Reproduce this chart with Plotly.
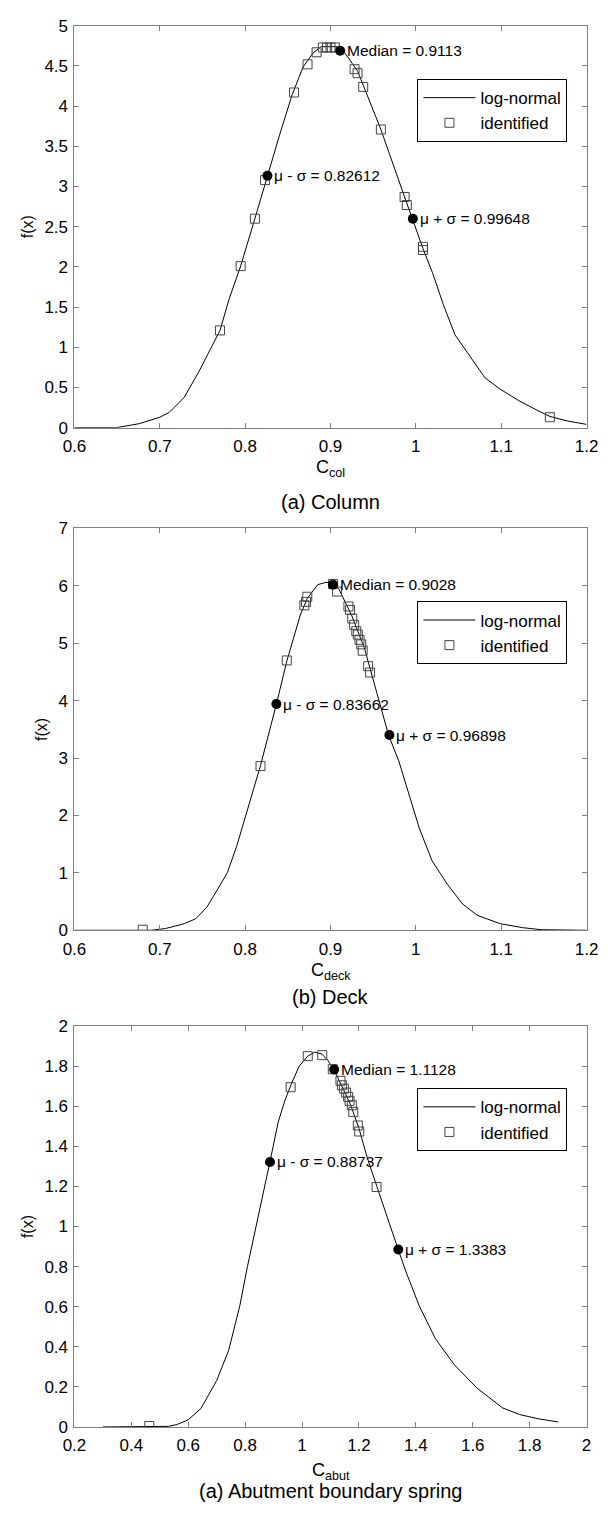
import plotly.graph_objects as go

# ---- Column ----
col_curve_x = [0.600, 0.649, 0.676, 0.700, 0.711, 0.7286, 0.746, 0.7595, 0.7705, 0.7815, 0.7947,
               0.8114, 0.826, 0.840, 0.855, 0.868, 0.8795, 0.889, 0.9077, 0.917, 0.932, 0.943,
               0.959, 0.9868, 0.9956, 1.0017, 1.0083, 1.0194, 1.0326, 1.0458, 1.0678, 1.081,
               1.0987, 1.1207, 1.1427, 1.157, 1.178, 1.200]
col_curve_y = [0.0, 0.0, 0.05, 0.13, 0.19, 0.377, 0.70, 0.99, 1.21, 1.61, 2.01,
               2.60, 3.13, 3.63, 4.14, 4.49, 4.66, 4.74, 4.74, 4.66, 4.43, 4.14,
               3.71, 2.87, 2.60, 2.43, 2.23, 1.93, 1.52, 1.156, 0.83, 0.62,
               0.48, 0.336, 0.213, 0.14, 0.082, 0.041]
col_ident_x = [0.7705, 0.7947, 0.8114, 0.8233, 0.8573, 0.8731, 0.8837, 0.891, 0.896, 0.900, 0.905,
               0.9282, 0.9317, 0.9383, 0.959, 0.9868, 0.9894, 1.0083, 1.0083, 1.157]
col_ident_y = [1.21, 2.01, 2.60, 3.08, 4.17, 4.52, 4.67, 4.73, 4.73, 4.73, 4.73,
               4.46, 4.41, 4.24, 3.71, 2.87, 2.77, 2.25, 2.21, 0.13]
col_stat_x = [0.82612, 0.9113, 0.99648]
col_stat_y = [3.135, 4.69, 2.60]
col_stat_text = ["\u03bc - \u03c3 = 0.82612", "Median = 0.9113", "\u03bc + \u03c3 = 0.99648"]

# ---- Deck ----
deck_curve_x = [0.600, 0.690, 0.7066, 0.7286, 0.742, 0.755, 0.768, 0.779, 0.790, 0.8035, 0.818,
                0.8366, 0.849, 0.8646, 0.8728, 0.885, 0.8946, 0.902, 0.9096, 0.9246, 0.9396,
                0.9546, 0.968, 0.980, 0.9886, 1.004, 1.019, 1.037, 1.0546, 1.072, 1.099,
                1.125, 1.147, 1.200]
deck_curve_y = [0.0, 0.0, 0.03, 0.115, 0.20, 0.40, 0.72, 1.00, 1.46, 2.13, 2.87,
                3.94, 4.70, 5.49, 5.78, 6.02, 6.06, 6.06, 5.95, 5.49, 4.92,
                4.12, 3.40, 2.95, 2.53, 1.78, 1.21, 0.80, 0.46, 0.26, 0.115,
                0.046, 0.01, 0.0]
deck_ident_x = [0.680, 0.818, 0.8488, 0.8694, 0.8713, 0.8728, 0.903, 0.9077, 0.921, 0.9229, 0.9255,
                0.9277, 0.9302, 0.932, 0.934, 0.936, 0.9377, 0.9441, 0.9464]
deck_ident_y = [0.01, 2.86, 4.70, 5.66, 5.72, 5.81, 6.03, 5.90, 5.64, 5.58, 5.43,
                5.32, 5.21, 5.15, 5.06, 4.98, 4.87, 4.60, 4.49]
deck_stat_x = [0.83662, 0.9028, 0.96898]
deck_stat_y = [3.94, 6.02, 3.40]
deck_stat_text = ["\u03bc - \u03c3 = 0.83662", "Median = 0.9028", "\u03bc + \u03c3 = 0.96898"]

# ---- Abutment boundary spring ----
abut_curve_x = [0.30, 0.53, 0.56, 0.60, 0.645, 0.668, 0.700, 0.742, 0.781, 0.808, 0.827,
                0.865, 0.887, 0.916, 0.940, 0.962, 0.990, 1.020, 1.045, 1.070, 1.090,
                1.113, 1.140, 1.170, 1.200, 1.230, 1.263, 1.300, 1.338, 1.367, 1.412,
                1.469, 1.536, 1.615, 1.705, 1.765, 1.830, 1.900]
abut_curve_y = [0.0, 0.003, 0.012, 0.036, 0.093, 0.15, 0.232, 0.382, 0.603, 0.80, 0.923,
                1.179, 1.322, 1.52, 1.63, 1.71, 1.80, 1.85, 1.87, 1.86, 1.83,
                1.78, 1.70, 1.61, 1.49, 1.34, 1.20, 1.04, 0.885, 0.768, 0.604,
                0.44, 0.309, 0.194, 0.095, 0.062, 0.041, 0.025]
abut_ident_x = [0.463, 0.960, 1.020, 1.071, 1.108, 1.135, 1.140, 1.147, 1.155, 1.162, 1.167,
                1.175, 1.180, 1.196, 1.201, 1.262]
abut_ident_y = [0.005, 1.695, 1.85, 1.855, 1.785, 1.727, 1.705, 1.688, 1.668, 1.647, 1.627,
                1.605, 1.572, 1.504, 1.474, 1.197]
abut_stat_x = [0.88737, 1.1128, 1.3383]
abut_stat_y = [1.322, 1.783, 0.885]
abut_stat_text = ["\u03bc - \u03c3 = 0.88737", "Median = 1.1128", "\u03bc + \u03c3 = 1.3383"]

# ---- axes ----
col_xticks = [0.6, 0.7, 0.8, 0.9, 1.0, 1.1, 1.2]
col_xticktext = ["0.6", "0.7", "0.8", "0.9", "1", "1.1", "1.2"]
col_yticks = [0, 0.5, 1, 1.5, 2, 2.5, 3, 3.5, 4, 4.5, 5]
col_yticktext = ["0", "0.5", "1", "1.5", "2", "2.5", "3", "3.5", "4", "4.5", "5"]
deck_xticks = col_xticks
deck_xticktext = col_xticktext
deck_yticks = [0, 1, 2, 3, 4, 5, 6, 7]
deck_yticktext = ["0", "1", "2", "3", "4", "5", "6", "7"]
abut_xticks = [0.2, 0.4, 0.6, 0.8, 1.0, 1.2, 1.4, 1.6, 1.8, 2.0]
abut_xticktext = ["0.2", "0.4", "0.6", "0.8", "1", "1.2", "1.4", "1.6", "1.8", "2"]
abut_yticks = [0, 0.2, 0.4, 0.6, 0.8, 1.0, 1.2, 1.4, 1.6, 1.8, 2.0]
abut_yticktext = ["0", "0.2", "0.4", "0.6", "0.8", "1", "1.2", "1.4", "1.6", "1.8", "2"]

x_titles = ["C<sub>col</sub>", "C<sub>deck</sub>", "C<sub>abut</sub>"]
captions = ["(a) Column", "(b) Deck", "(a) Abutment boundary spring"]

W, H = 612, 1514
FONT = "Liberation Sans, Arial, sans-serif"
AXC = "#808080"

# plot boxes in pixels: (left, right, top, bottom)
boxes = [(65, 598, 17, 424), (65, 598, 526, 933), (65, 598, 1030, 1436)]
xranges = [[0.6, 1.2], [0.6, 1.2], [0.2, 2.0]]
yranges = [[0, 5], [0, 7], [0, 2]]
xtitle_y = [465, 975, 1481]
caption_y = [499, 1001, 1501]
legend_top = [71, 600, 1093]

panels = [
    (col_curve_x, col_curve_y, col_ident_x, col_ident_y, col_stat_x, col_stat_y, col_stat_text,
     col_xticks, col_xticktext, col_yticks, col_yticktext),
    (deck_curve_x, deck_curve_y, deck_ident_x, deck_ident_y, deck_stat_x, deck_stat_y, deck_stat_text,
     deck_xticks, deck_xticktext, deck_yticks, deck_yticktext),
    (abut_curve_x, abut_curve_y, abut_ident_x, abut_ident_y, abut_stat_x, abut_stat_y, abut_stat_text,
     abut_xticks, abut_xticktext, abut_yticks, abut_yticktext),
]

fig = go.Figure()
layout = dict(
    width=W, height=H, margin=dict(l=0, r=0, t=0, b=0),
    paper_bgcolor="white", plot_bgcolor="white",
    font=dict(family=FONT, size=16, color="black"),
    showlegend=True,
)
annotations = []

for i, (cx, cy, ix, iy, sx, sy, st, xt, xtt, yt, ytt) in enumerate(panels):
    n = "" if i == 0 else str(i + 1)
    xa, ya = "x" + n, "y" + n
    lg = "legend" + n
    l, r, t, b = boxes[i]

    fig.add_trace(go.Scatter(x=cx, y=cy, mode="lines", name="log-normal",
                             line=dict(color="black", width=1), xaxis=xa, yaxis=ya, legend=lg))
    fig.add_trace(go.Scatter(x=ix, y=iy, mode="markers", name="identified",
                             marker=dict(symbol="square-open", size=9, color="#444444",
                                         line=dict(width=1)),
                             xaxis=xa, yaxis=ya, legend=lg))
    fig.add_trace(go.Scatter(x=sx, y=sy, mode="markers", showlegend=False,
                             marker=dict(symbol="circle", size=10, color="black"),
                             xaxis=xa, yaxis=ya))
    for px, py, txt in zip(sx, sy, st):
        annotations.append(dict(x=px, y=py, xref=xa, yref=ya, text=txt, showarrow=False,
                                xanchor="left", yanchor="middle", xshift=5,
                                font=dict(family=FONT, size=15.5, color="black")))

    axis_common = dict(showgrid=False, zeroline=False, showline=True, linecolor=AXC,
                       linewidth=1, mirror="ticks", ticks="inside", ticklen=5,
                       tickcolor=AXC, tickwidth=1,
                       tickfont=dict(family=FONT, size=17, color="black"))
    layout["xaxis" + n] = dict(axis_common, domain=[l / W, r / W], range=xranges[i],
                               tickvals=xt, ticktext=xtt, anchor=ya, ticklabelstandoff=3)
    layout["yaxis" + n] = dict(axis_common, domain=[1 - b / H, 1 - t / H], range=yranges[i],
                               tickvals=yt, ticktext=ytt, anchor=xa, ticklabelstandoff=2,
                               title=dict(text="f(x)", standoff=6,
                                          font=dict(family=FONT, size=16, color="black")))
    layout[lg] = dict(x=422 / W, y=1 - legend_top[i] / H, xanchor="left", yanchor="top",
                      bgcolor="white", bordercolor="black", borderwidth=1,
                      itemwidth=52, font=dict(family=FONT, size=17, color="black"),
                      tracegroupgap=0)

    cxm = (l + r) / 2 / W
    annotations.append(dict(x=cxm, y=1 - xtitle_y[i] / H, xref="paper", yref="paper",
                            text=x_titles[i], showarrow=False, xanchor="center",
                            yanchor="middle", font=dict(family=FONT, size=18, color="black")))
    annotations.append(dict(x=cxm, y=1 - caption_y[i] / H, xref="paper", yref="paper",
                            text=captions[i], showarrow=False, xanchor="center",
                            yanchor="middle", font=dict(family=FONT, size=20, color="black")))

layout["annotations"] = annotations
fig.update_layout(**layout)
fig.write_html("out.html")
